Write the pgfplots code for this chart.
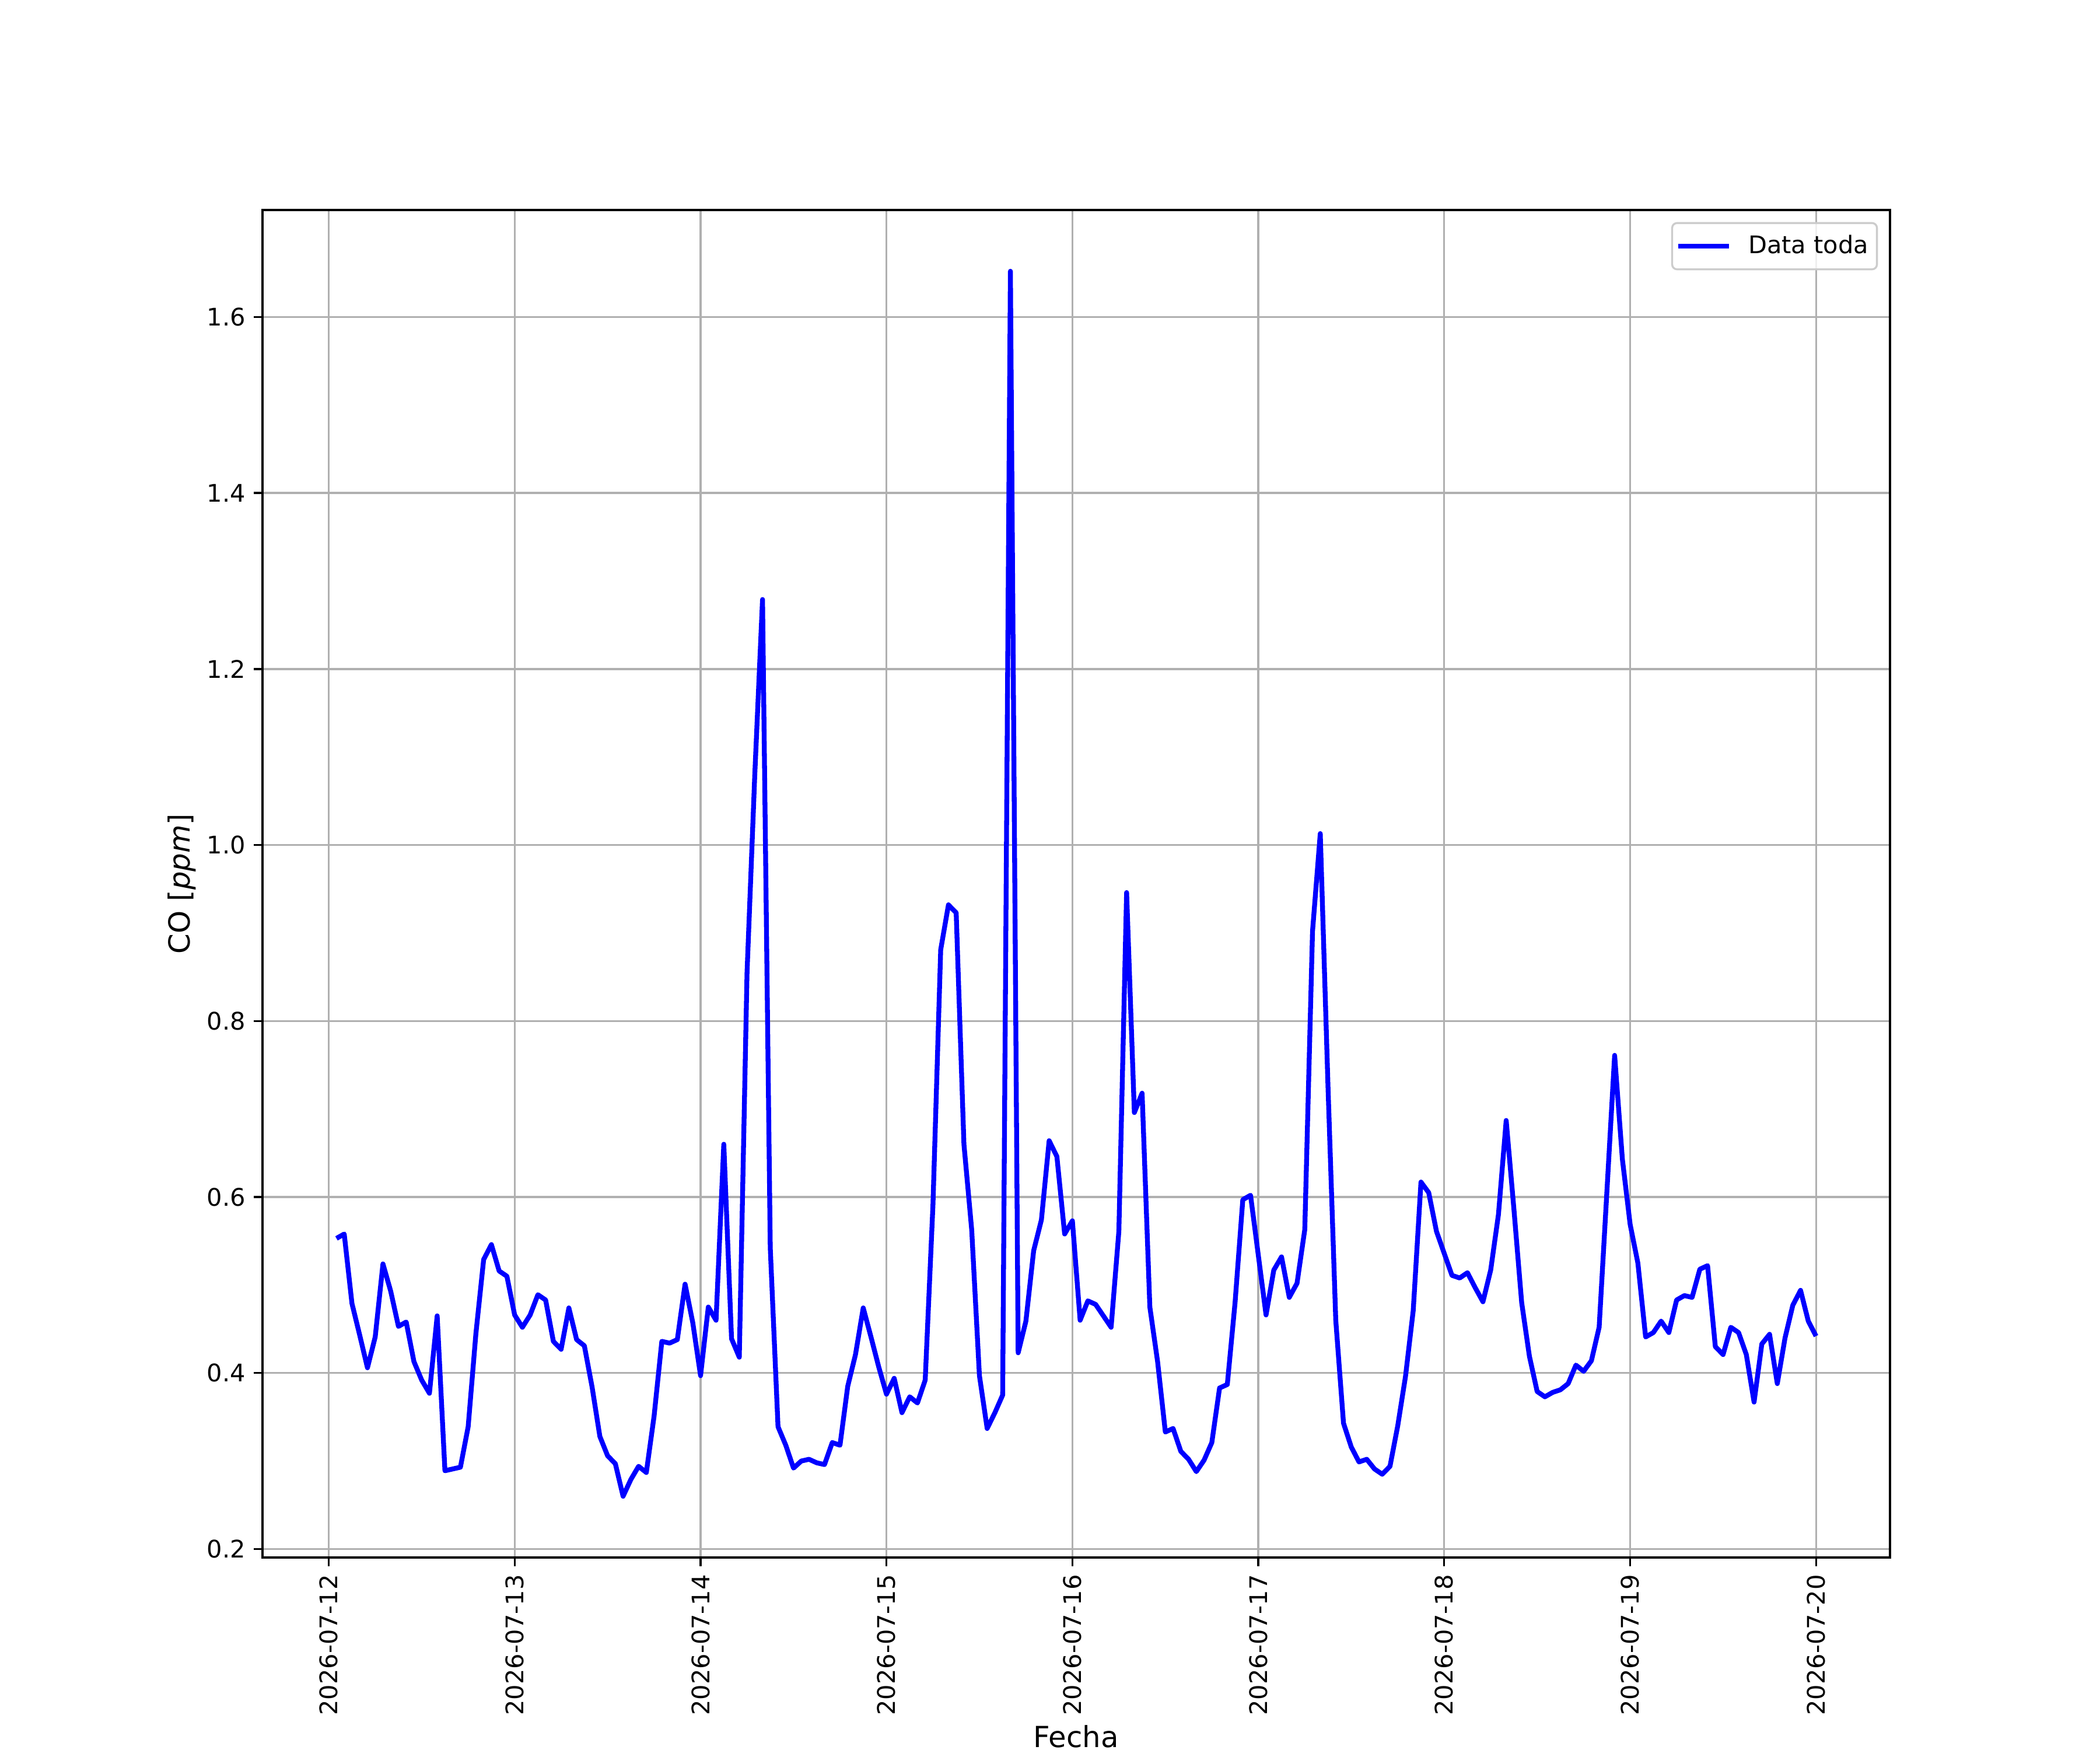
\documentclass[border=0pt]{standalone}
\usepackage{fontspec}
\setmainfont{DejaVu Sans}
\usepackage{pgfplots}
\pgfplotsset{compat=1.18}
\usepackage{pgfplotstable}
\pgfplotstableread{
h v
1 0.553
2 0.558
3 0.479
4 0.443
5 0.406
6 0.441
7 0.524
8 0.493
9 0.453
10 0.458
11 0.413
12 0.392
13 0.377
14 0.465
15 0.289
16 0.291
17 0.293
18 0.339
19 0.445
20 0.529
21 0.546
22 0.516
23 0.510
24 0.466
25 0.452
26 0.466
27 0.489
28 0.483
29 0.436
30 0.427
31 0.474
32 0.438
33 0.431
34 0.384
35 0.328
36 0.306
37 0.297
38 0.260
39 0.279
40 0.294
41 0.287
42 0.351
43 0.436
44 0.434
45 0.438
46 0.501
47 0.457
48 0.397
49 0.475
50 0.460
51 0.660
52 0.439
53 0.418
54 0.855
55 1.080
56 1.279
57 0.542
58 0.339
59 0.318
60 0.292
61 0.300
62 0.302
63 0.298
64 0.296
65 0.321
66 0.318
67 0.385
68 0.421
69 0.474
70 0.441
71 0.407
72 0.376
73 0.394
74 0.355
75 0.373
76 0.366
77 0.392
78 0.591
79 0.881
80 0.932
81 0.923
82 0.660
83 0.563
84 0.397
85 0.337
86 0.355
87 0.375
88 1.652
89 0.423
90 0.459
91 0.539
92 0.574
93 0.664
94 0.646
95 0.558
96 0.573
97 0.460
98 0.482
99 0.478
100 0.465
101 0.452
102 0.561
103 0.946
104 0.696
105 0.718
106 0.475
107 0.413
108 0.333
109 0.337
110 0.311
111 0.302
112 0.288
113 0.301
114 0.321
115 0.383
116 0.387
117 0.480
118 0.597
119 0.602
120 0.534
121 0.466
122 0.517
123 0.532
124 0.486
125 0.502
126 0.563
127 0.902
128 1.013
129 0.725
130 0.460
131 0.343
132 0.316
133 0.299
134 0.302
135 0.291
136 0.285
137 0.294
138 0.340
139 0.396
140 0.471
141 0.617
142 0.605
143 0.561
144 0.536
145 0.511
146 0.508
147 0.514
148 0.497
149 0.481
150 0.517
151 0.580
152 0.687
153 0.586
154 0.480
155 0.419
156 0.379
157 0.373
158 0.378
159 0.381
160 0.388
161 0.409
162 0.402
163 0.414
164 0.452
165 0.606
166 0.761
167 0.643
168 0.569
169 0.525
170 0.441
171 0.446
172 0.459
173 0.446
174 0.483
175 0.488
176 0.486
177 0.518
178 0.522
179 0.430
180 0.421
181 0.452
182 0.446
183 0.421
184 0.367
185 0.433
186 0.444
187 0.388
188 0.440
189 0.477
190 0.494
191 0.459
192 0.442
}\datatab
\definecolor{gridgray}{HTML}{B0B0B0}
\definecolor{legedge}{HTML}{CCCCCC}
\begin{document}
\begin{tikzpicture}
\path[use as bounding box] (-1.5in,-1.1in) rectangle (10.5in,8.9in);
\begin{axis}[
  at={(0,0)}, anchor=south west,
  scale only axis,
  width=9.3in, height=7.7in,
  xmin=-8.55, xmax=201.55,
  ymin=0.1904, ymax=1.7216,
  xtick={0,24,48,72,96,120,144,168,192},
  xticklabels={2026-07-12,2026-07-13,2026-07-14,2026-07-15,2026-07-16,2026-07-17,2026-07-18,2026-07-19,2026-07-20},
  x tick label style={rotate=90, anchor=east},
  ytick={0.2,0.4,0.6,0.8,1.0,1.2,1.4,1.6},
  yticklabel style={/pgf/number format/.cd, fixed, fixed zerofill, precision=1},
  /pgf/number format/assume math mode=true,
  tick align=outside,
  tick pos=left,
  major tick length=3.5pt,
  every tick/.style={black, line width=0.8pt},
  axis line style={line width=0.8pt},
  grid=major,
  grid style={color=gridgray, line width=0.8pt},
  tick label style={font=\fontsize{10}{12}\selectfont},
  label style={font=\fontsize{12}{14}\selectfont},
  xlabel={Fecha},
  xlabel style={at={(axis description cs:0.5,-0.1411)}, anchor=base},
  ylabel={CO [\textit{ppm}]},
  ylabel style={at={(axis description cs:-0.0358,0.5)}, anchor=south, rotate=0},
  legend cell align=left,
  legend image code/.code={\draw[#1] (0pt,0pt) -- (21pt,0pt); \path (26pt,0pt);},
  legend style={at={(1,1)}, anchor=north east, xshift=-5pt, yshift=-5pt,
    draw=legedge, line width=0.8pt, rounded corners=2pt, fill=white, fill opacity=0.8, draw opacity=1, text opacity=1,
    font=\fontsize{10}{12}\selectfont, inner xsep=1.5pt, inner ysep=3pt},
]
\addplot[color=blue, line width=2pt, line join=round] table[x=h, y=v] {\datatab};
\addlegendentry{Data toda}
\end{axis}
\end{tikzpicture}
\end{document}
